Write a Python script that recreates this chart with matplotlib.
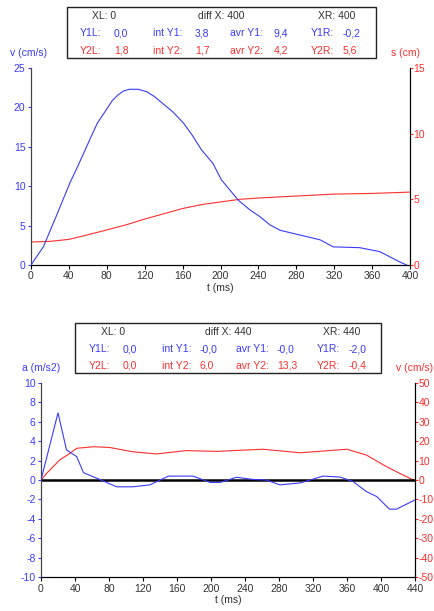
import numpy as np
import matplotlib
matplotlib.use("Agg")
import matplotlib.pyplot as plt
from matplotlib.patches import Rectangle

plt.rcParams['font.family'] = ['Liberation Sans', 'DejaVu Sans']
plt.rcParams['axes.unicode_minus'] = False

BLUE = '#3a3aff'
RED = '#ff2e2e'
GREY = '#333333'

# top panel: velocity (left) and displacement (right)
t1_v = [0, 13, 27, 41, 50, 62, 70, 80, 86, 92, 98, 104, 113, 122, 130, 139, 150,
        161, 170, 180, 192, 201, 219, 231, 242, 252, 263, 284, 305, 319, 347, 368,
        389, 400]
v1 = [0.0, 2.3, 6.3, 10.4, 12.7, 15.9, 18.0, 19.8, 20.9, 21.6, 22.1, 22.3, 22.3,
      22.0, 21.4, 20.5, 19.4, 18.0, 16.5, 14.6, 12.9, 10.8, 8.2, 7.0, 6.1, 5.1, 4.4,
      3.8, 3.2, 2.3, 2.2, 1.7, 0.4, -0.2]
t1_s = [0, 20, 40, 60, 80, 100, 120, 140, 160, 180, 200, 220, 240, 280, 320, 360, 400]
s1 = [1.75, 1.8, 1.95, 2.3, 2.67, 3.05, 3.5, 3.9, 4.3, 4.6, 4.8, 5.0, 5.1, 5.25,
      5.4, 5.45, 5.55]

# bottom panel: acceleration (left) and velocity (right)
t2_a = [0, 20, 30, 42, 50, 66, 89, 108, 128, 150, 179, 199, 211, 230, 250, 265,
        281, 305, 332, 352, 367, 383, 395, 410, 418, 440]
a2 = [0.0, 6.9, 3.1, 2.4, 0.75, 0.17, -0.7, -0.7, -0.5, 0.4, 0.4, -0.25, -0.25,
      0.28, 0.05, 0.0, -0.5, -0.3, 0.4, 0.3, -0.15, -1.2, -1.7, -3.0, -3.0, -2.05]
t2_v = [0, 7, 22, 34, 42, 62, 81, 108, 136, 171, 207, 261, 305, 360, 383, 403, 422, 440]
v2 = [0.0, 3.6, 10.3, 13.7, 16.3, 17.1, 16.7, 14.5, 13.4, 15.1, 14.7, 15.8, 14.0,
      15.8, 12.8, 7.7, 3.4, -0.4]

box1_rows = [
    [("XL: 0", 92), ("diff X: 400", 198), ("XR: 400", 318)],
    [("Y1L:", 80), ("0,0", 114), ("int Y1:", 153), ("3,8", 195), ("avr Y1:", 230),
     ("9,4", 274), ("Y1R:", 311), ("-0,2", 343)],
    [("Y2L:", 80), ("1,8", 114), ("int Y2:", 153), ("1,7", 195), ("avr Y2:", 230),
     ("4,2", 274), ("Y2R:", 311), ("5,6", 343)],
]
box2_rows = [
    [("XL: 0", 101), ("diff X: 440", 205), ("XR: 440", 323)],
    [("Y1L:", 89), ("0,0", 123), ("int Y1:", 162), ("-0,0", 200), ("avr Y1:", 236),
     ("-0,0", 277), ("Y1R:", 317), ("-2,0", 349)],
    [("Y2L:", 89), ("0,0", 123), ("int Y2:", 162), ("6,0", 200), ("avr Y2:", 236),
     ("13,3", 277), ("Y2R:", 317), ("-0,4", 349)],
]

W, H = 434, 611
fig = plt.figure(figsize=(W / 100, H / 100), dpi=100)


def px(x, y):
    return x / W, 1 - y / H


def setup(ax, axr, xmax, xticks, lticks, rticks):
    ax.set_xlim(0, xmax)
    ax.set_xticks(xticks)
    ax.set_yticks(lticks)
    axr.set_yticks(rticks)
    ax.set_ylim(lticks[0], lticks[-1])
    axr.set_ylim(rticks[0], rticks[-1])
    for a in (ax, axr):
        a.spines['top'].set_visible(False)
        a.spines['left'].set_color('#444444')
        a.spines['right'].set_color('black')
        a.spines['bottom'].set_color('black')
    ax.tick_params(axis='y', colors=BLUE, labelsize=7.5, length=2.5, width=0.8, pad=1.5)
    axr.tick_params(axis='y', colors=RED, labelsize=7.5, length=2, width=0.8, pad=0.5)
    ax.tick_params(axis='x', colors='black', labelcolor=GREY, labelsize=7.5,
                   length=3, width=0.8, pad=1.5)
    ax.set_xlabel("t (ms)", fontsize=7.5, color=GREY, labelpad=1)


def stats_box(x0, y0, x1, y1, rows, ys):
    fig.patches.append(Rectangle(px(x0, y1), (x1 - x0) / W, (y1 - y0) / H,
                                 transform=fig.transFigure, fill=False,
                                 edgecolor='#222222', linewidth=1.0))
    colors = [GREY, BLUE, RED]
    for row, y, c in zip(rows, ys, colors):
        for txt, x in row:
            fig.text(*px(x, y + 3.8), txt, fontsize=7.5, color=c,
                     va='baseline', ha='left')


# top panel
ax1 = fig.add_axes([31 / W, 1 - 265 / H, 379 / W, 197 / H])
ax1r = ax1.twinx()
ax1.plot(t1_v, v1, color=BLUE, lw=0.8, zorder=3)
ax1r.plot(t1_s, s1, color=RED, lw=0.8)
setup(ax1, ax1r, 400, range(0, 401, 40), [0, 5, 10, 15, 20, 25], [0, 5, 10, 15])
ax1.set_zorder(ax1r.get_zorder() + 1)
ax1.patch.set_visible(False)
fig.text(*px(10, 53), "v (cm/s)", fontsize=7.5, color=BLUE, va='center')
fig.text(*px(391, 53), "s (cm)", fontsize=7.5, color=RED, va='center')
stats_box(66.7, 7, 375.7, 58, box1_rows, [15, 32.7, 50])

# bottom panel
ax2 = fig.add_axes([41 / W, 1 - 577.3 / H, 374 / W, 194.6 / H])
ax2r = ax2.twinx()
ax2.axhline(0, color='black', lw=1.8, zorder=2)
ax2.plot(t2_a, a2, color=BLUE, lw=0.8, zorder=3)
ax2r.plot(t2_v, v2, color=RED, lw=0.8)
setup(ax2, ax2r, 440, range(0, 441, 40), list(range(-10, 11, 2)),
      list(range(-50, 51, 10)))
ax2.set_zorder(ax2r.get_zorder() + 1)
ax2.patch.set_visible(False)
fig.text(*px(22, 368), "a (m/s2)", fontsize=7.5, color=BLUE, va='center')
fig.text(*px(396, 368), "v (cm/s)", fontsize=7.5, color=RED, va='center')
stats_box(75.3, 323.3, 380.7, 372.7, box2_rows, [331, 348.3, 365])

fig.savefig("out.png", dpi=100)
